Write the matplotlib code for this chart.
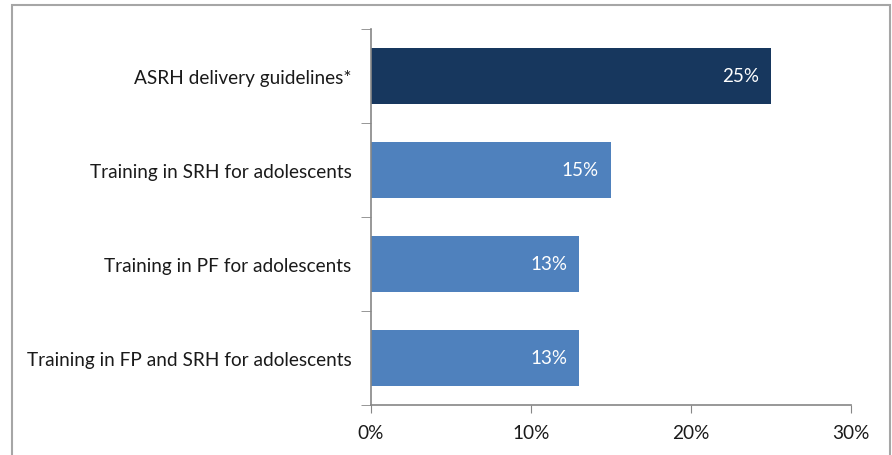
import matplotlib.pyplot as plt
from matplotlib.patches import Rectangle

plt.rcParams['font.family'] = ['Lato', 'DejaVu Sans']

categories = ['ASRH delivery guidelines*',
              'Training in SRH for adolescents',
              'Training in PF for adolescents',
              'Training in FP and SRH for adolescents']
values = [25, 15, 13, 13]
colors = ['#17375e', '#4f81bd', '#4f81bd', '#4f81bd']
x_ticks = [0, 10, 20, 30]

fig = plt.figure(figsize=(8.92, 4.56), dpi=100)
ax = fig.add_axes([371 / 892, 1 - 406 / 456, 480 / 892, 376 / 456])

# outer frame of the chart area
fig.add_artist(Rectangle((12 / 892, -0.05), 878 / 892, 1.05 - 6 / 456,
                         transform=fig.transFigure, fill=False,
                         edgecolor='#a6a6a6', linewidth=1.5))

pos = list(range(len(categories)))
ax.barh(pos, values, height=0.6, color=colors)
ax.set_ylim(len(categories) - 0.5, -0.5)
ax.set_xlim(0, 30)

for p, v in zip(pos, values):
    ax.text(v - 0.75, p, f'{v}%', ha='right', va='center', color='white',
            fontsize=13.5)

ax.set_yticks(pos)
ax.set_yticklabels(categories, fontsize=13.7, color='#1a1a1a')
ax.set_yticks([-0.5, 0.5, 1.5, 2.5, 3.5], minor=True)
ax.tick_params(axis='y', which='major', length=0, pad=14)
ax.tick_params(axis='y', which='minor', length=7, color='#868686')
ax.set_xticks(x_ticks)
ax.set_xticklabels([f'{t}%' for t in x_ticks], fontsize=13.7, color='#1a1a1a')
ax.tick_params(axis='x', length=6, color='#868686', pad=8)

for s in ['top', 'right']:
    ax.spines[s].set_visible(False)
for s in ['left', 'bottom']:
    ax.spines[s].set_color('#868686')
    ax.spines[s].set_linewidth(1.2)

fig.savefig('out.png', dpi=100)
